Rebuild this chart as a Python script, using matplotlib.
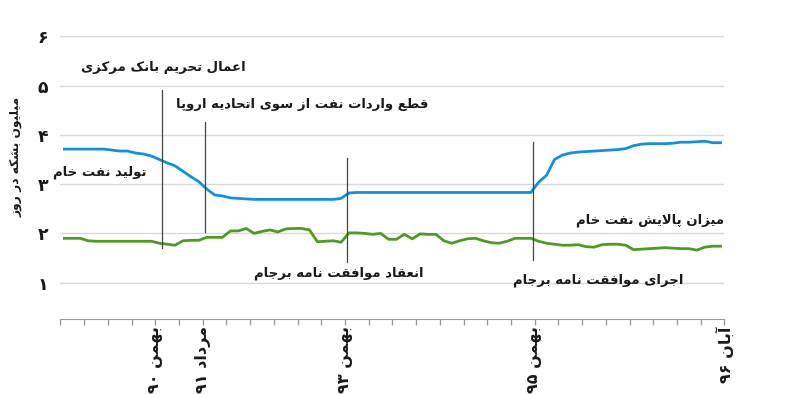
import re
import matplotlib
matplotlib.use("Agg")
import matplotlib.pyplot as plt

# ---- data ----
# one value per step, step = 1/3 of an x-axis tick
crude_output = [3.71, 3.71, 3.71, 3.71, 3.71, 3.71, 3.69, 3.67, 3.67, 3.63,
                3.61, 3.57, 3.50, 3.43, 3.37, 3.26, 3.15, 3.05, 2.90, 2.78,
                2.76, 2.72, 2.71, 2.70, 2.69, 2.69, 2.69, 2.69, 2.69, 2.69,
                2.69, 2.69, 2.69, 2.69, 2.69, 2.71, 2.82, 2.83, 2.83, 2.83,
                2.83, 2.83, 2.83, 2.83, 2.83, 2.83, 2.83, 2.83, 2.83, 2.83,
                2.83, 2.83, 2.83, 2.83, 2.83, 2.83, 2.83, 2.83, 2.83, 2.83,
                3.04, 3.18, 3.50, 3.59, 3.63, 3.65, 3.66, 3.67, 3.68, 3.69,
                3.70, 3.72, 3.78, 3.81, 3.82, 3.82, 3.82, 3.83, 3.85, 3.85,
                3.86, 3.87, 3.84, 3.84]
refining = [1.90, 1.90, 1.90, 1.85, 1.84, 1.84, 1.84, 1.84, 1.84, 1.84,
            1.84, 1.84, 1.80, 1.78, 1.76, 1.85, 1.86, 1.86, 1.92, 1.92,
            1.92, 2.05, 2.05, 2.10, 2.00, 2.04, 2.07, 2.03, 2.09, 2.10,
            2.10, 2.07, 1.83, 1.84, 1.85, 1.82, 2.01, 2.01, 2.00, 1.98,
            2.00, 1.88, 1.88, 1.98, 1.89, 1.99, 1.98, 1.98, 1.85, 1.80,
            1.85, 1.89, 1.90, 1.85, 1.81, 1.80, 1.84, 1.90, 1.90, 1.90,
            1.84, 1.80, 1.78, 1.76, 1.76, 1.77, 1.73, 1.72, 1.77, 1.78,
            1.78, 1.76, 1.67, 1.68, 1.69, 1.70, 1.71, 1.70, 1.69, 1.69,
            1.66, 1.72, 1.74, 1.74]

n_ticks = 28
tick_labels = {4: "بهمن 90", 6: "مرداد 91", 12: "بهمن 93", 20: "بهمن 95", 28: "آبان 96"}
y_ticks = [1, 2, 3, 4, 5, 6]

# events: x position (tick units), line top, line bottom
events = [(4.28, 4.90, 1.70), (6.09, 4.26, 2.02), (12.07, 3.53, 1.42), (19.91, 3.85, 1.46)]


ARABIC = {
    'ا': (0xFE8D, 2), 'آ': (0xFE81, 2), 'ب': (0xFE8F, 4), 'پ': (0xFB56, 4),
    'ت': (0xFE95, 4), 'ث': (0xFE99, 4), 'ج': (0xFE9D, 4), 'چ': (0xFB7A, 4),
    'ح': (0xFEA1, 4), 'خ': (0xFEA5, 4), 'د': (0xFEA9, 2), 'ذ': (0xFEAB, 2),
    'ر': (0xFEAD, 2), 'ز': (0xFEAF, 2), 'ژ': (0xFB8A, 2), 'س': (0xFEB1, 4),
    'ش': (0xFEB5, 4), 'ص': (0xFEB9, 4), 'ض': (0xFEBD, 4), 'ط': (0xFEC1, 4),
    'ظ': (0xFEC5, 4), 'ع': (0xFEC9, 4), 'غ': (0xFECD, 4), 'ف': (0xFED1, 4),
    'ق': (0xFED5, 4), 'ک': (0xFB8E, 4), 'گ': (0xFB92, 4), 'ل': (0xFEDD, 4),
    'م': (0xFEE1, 4), 'ن': (0xFEE5, 4), 'و': (0xFEED, 2), 'ه': (0xFEE9, 4),
    'ی': (0xFBFC, 4),
}
FA_DIGITS = str.maketrans("0123456789", "۰۱۲۳۴۵۶۷۸۹")


def fa(text):
    # simple persian shaping + rtl ordering, matplotlib does neither
    text = text.translate(FA_DIGITS)
    tokens = []
    i = 0
    while i < len(text):
        if text[i] == 'ل' and i + 1 < len(text) and text[i + 1] in 'اآ':
            tokens.append('LA' if text[i + 1] == 'ا' else 'LAA')
            i += 2
        else:
            tokens.append(text[i])
            i += 1

    def dual(t):
        return t in ARABIC and ARABIC[t][1] == 4

    def letter(t):
        return t in ARABIC or t in ('LA', 'LAA')

    out = []
    for k, t in enumerate(tokens):
        prev = tokens[k - 1] if k > 0 else None
        nxt = tokens[k + 1] if k + 1 < len(tokens) else None
        a = prev is not None and dual(prev)
        b = nxt is not None and letter(nxt) and dual(t)
        if t in ('LA', 'LAA'):
            base = 0xFEFB if t == 'LA' else 0xFEF5
            out.append(chr(base + (1 if a else 0)))
        elif t in ARABIC:
            base, nf = ARABIC[t]
            if nf == 2:
                out.append(chr(base + (1 if a else 0)))
            else:
                off = 3 if (a and b) else 1 if a else 2 if b else 0
                out.append(chr(base + off))
        else:
            out.append(t)
    vis = ''.join(reversed(out))
    vis = re.sub(r'[0-9۰-۹]+', lambda m: m.group(0)[::-1], vis)
    return vis


plt.rcParams['font.family'] = ['DejaVu Sans']

blue = "#1590d8"
green = "#4e9a24"
text_col = "#1a1a1a"

fig = plt.figure(figsize=(8, 3.94), dpi=100)
ax = fig.add_axes([0.0756, 0.190, 0.830, 0.718])

steps = [(i + 0.5) / 3 for i in range(len(crude_output))]
ax.plot(steps, crude_output, color=blue, lw=2.0, solid_joinstyle='round', zorder=3)
ax.plot(steps, refining, color=green, lw=2.0, solid_joinstyle='round', zorder=3)

for x, top, bottom in events:
    ax.plot([x, x], [bottom, top], color="#444444", lw=0.9, zorder=4)

ax.set_xlim(0, n_ticks)
ax.set_ylim(0.26, 6.0)

ax.set_yticks(y_ticks)
ax.set_yticklabels([fa(str(v)) for v in y_ticks], fontsize=12.5, fontweight='bold', color=text_col)
ax.tick_params(axis='y', length=0, pad=9)
ax.grid(axis='y', color="#d9d9d9", lw=1)
ax.set_axisbelow(True)

ax.set_xticks(range(n_ticks + 1))
ax.set_xticklabels([fa(tick_labels[k]) if k in tick_labels else "" for k in range(n_ticks + 1)],
                   rotation=90, fontsize=11.5, fontweight='bold', color=text_col)
ax.tick_params(axis='x', length=4, color="#999999", width=1, pad=1)

for s in ['top', 'right', 'left']:
    ax.spines[s].set_visible(False)
ax.spines['bottom'].set_color("#999999")

fig.text(16 / 800, 1 - 157 / 394, fa("میلیون بشکه در روز"), rotation=90, ha='center', va='center',
         fontsize=8.8, fontweight='bold', color=text_col)

notes = [
    ("اعمال تحریم بانک مرکزی", 4.32, 5.37),
    ("قطع واردات نفت از سوی اتحادیه اروپا", 10.18, 4.62),
    ("تولید نفت خام", 1.66, 3.24),
    ("میزان پالایش نفت خام", 24.88, 2.27),
    ("انعقاد موافقت نامه برجام", 11.74, 1.20),
    ("اجرای موافقت نامه برجام", 22.67, 1.04),
]
for txt, x, y in notes:
    ax.text(x, y, fa(txt), ha='center', va='center', fontsize=9.5, fontweight='bold',
            color=text_col, zorder=5)

fig.savefig("out.png", dpi=100)
